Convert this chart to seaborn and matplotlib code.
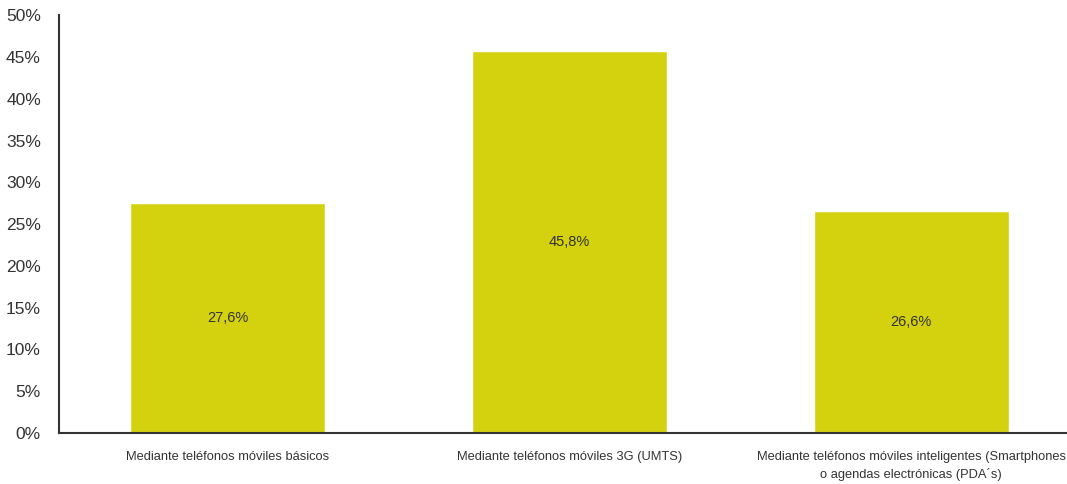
import pandas as pd
import numpy as np
import matplotlib.pyplot as plt
import seaborn as sns

categories = [
    "Mediante teléfonos móviles básicos",
    "Mediante teléfonos móviles 3G (UMTS)",
    "Mediante teléfonos móviles inteligentes (Smartphones\no agendas electrónicas (PDA´s)",
]
values = [0.276, 0.458, 0.266]
value_labels = ["27,6%", "45,8%", "26,6%"]
yticks = [0, 0.05, 0.10, 0.15, 0.20, 0.25, 0.30, 0.35, 0.40, 0.45, 0.50]
ytick_labels = ["0%", "5%", "10%", "15%", "20%", "25%", "30%", "35%", "40%", "45%", "50%"]

sns.set_style("white")
plt.rcParams['font.family'] = ['Liberation Sans', 'DejaVu Sans']

df = pd.DataFrame({"cat": categories, "val": values})

fig = plt.figure(figsize=(10.67, 4.84), dpi=100)
ax = fig.add_axes([0.0553, 0.1054, 0.9447, 0.8626])

sns.barplot(data=df, x="cat", y="val", color="#D4D10F", saturation=1,
            width=0.571, ax=ax)

# value labels in the middle of each bar
for i, (v, lab) in enumerate(zip(values, value_labels)):
    ax.text(i, v / 2, lab, ha="center", va="center", fontsize=10.5, color="#333333")

ax.set_xlim(-0.493, 2.456)
ax.set_ylim(0, 0.5)
ax.set_yticks(yticks)
ax.set_yticklabels(ytick_labels, fontsize=12.5, color="#333333")
ax.tick_params(axis="x", labelsize=9.3, colors="#333333", length=0, pad=13)
ax.tick_params(axis="y", length=0, pad=13)
for t in ax.get_xticklabels():
    t.set_linespacing(1.5)
ax.set_xlabel("")
ax.set_ylabel("")

for s in ["top", "right"]:
    ax.spines[s].set_visible(False)
for s in ["left", "bottom"]:
    ax.spines[s].set_color("#333333")
    ax.spines[s].set_linewidth(1.5)

fig.savefig("out.png", dpi=100)
